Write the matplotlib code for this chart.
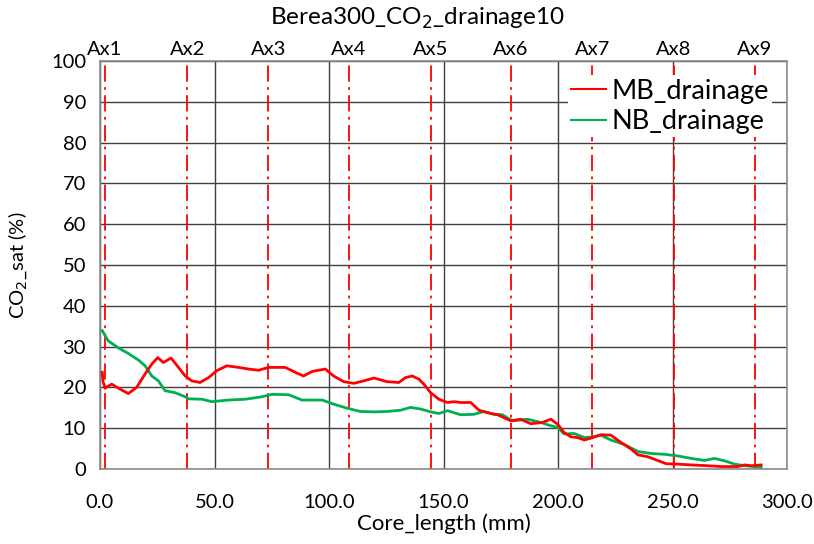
import matplotlib
matplotlib.use("Agg")
import matplotlib.pyplot as plt

plt.rcParams['font.family'] = ['Lato', 'DejaVu Sans']

# ---- data ----
mb_x = [1.0, 1.3, 2.2, 5.1, 8.7, 12.4, 16.0, 19.7, 22.6, 25.2, 27.7, 31.0, 34.3, 37.2, 40.1, 43.7,
        47.4, 51.0, 55.4, 60.5, 64.9, 69.3, 73.6, 80.9, 85.3, 88.9, 92.6, 98.4, 102.0, 106.5,
        110.8, 115.2, 119.6, 125.4, 130.5, 133.4, 136.4, 139.3, 141.4, 144.4, 148.0, 151.7,
        154.6, 157.5, 161.9, 165.5, 169.2, 173.6, 179.4, 183.7, 188.1, 193.2, 196.9, 199.8,
        202.7, 205.6, 208.5, 211.5, 215.1, 218.7, 223.1, 227.5, 231.9, 234.8, 239.2, 243.5,
        247.2, 252.3, 258.1, 265.4, 271.2, 278.5, 281.4, 284.4, 288.7]
mb_y = [23.7, 21.5, 19.8, 20.8, 19.6, 18.5, 20.0, 23.3, 25.7, 27.3, 26.1, 27.2, 24.9, 22.8, 21.6,
        21.2, 22.4, 24.1, 25.3, 24.9, 24.5, 24.2, 24.9, 24.9, 23.7, 22.8, 23.9, 24.5, 22.8, 21.4,
        21.0, 21.6, 22.3, 21.4, 21.2, 22.4, 22.8, 22.0, 20.8, 18.7, 17.1, 16.3, 16.5, 16.3, 16.3,
        14.4, 13.8, 13.3, 11.8, 12.2, 11.1, 11.4, 12.2, 11.0, 8.9, 7.9, 7.7, 7.1, 7.7, 8.4, 8.3,
        6.5, 4.9, 3.5, 3.0, 2.1, 1.3, 1.2, 1.0, 0.8, 0.6, 0.6, 1.0, 0.8, 1.0]

nb_x = [1.0, 3.6, 8.0, 12.4, 16.8, 19.7, 22.6, 25.5, 28.4, 32.8, 37.2, 38.6, 44.5, 48.9, 56.1,
        63.4, 70.7, 75.1, 82.4, 88.2, 97.0, 102.0, 107.9, 113.7, 119.6, 125.4, 131.2, 135.6,
        140.0, 144.4, 148.0, 151.7, 157.5, 163.3, 167.7, 172.0, 175.7, 180.1, 186.7, 192.5,
        196.9, 199.8, 202.7, 207.1, 211.5, 215.8, 218.7, 223.1, 229.0, 234.8, 240.6, 246.5,
        252.3, 258.1, 264.0, 268.3, 272.7, 277.1, 281.4, 285.8, 288.7]
nb_y = [33.9, 31.4, 29.7, 28.3, 26.7, 25.3, 22.8, 21.6, 19.2, 18.7, 17.7, 17.2, 17.1, 16.5, 16.9,
        17.1, 17.7, 18.3, 18.2, 16.9, 16.9, 15.9, 14.9, 14.1, 14.0, 14.1, 14.4, 15.1, 14.7, 14.0,
        13.6, 14.3, 13.3, 13.4, 14.1, 13.4, 13.3, 11.8, 12.2, 11.4, 10.6, 10.2, 8.6, 8.7, 7.7,
        7.9, 8.3, 7.1, 6.0, 4.3, 3.8, 3.6, 3.2, 2.6, 2.1, 2.6, 2.0, 1.2, 0.8, 0.6, 0.5]

ax_pos = [2.2, 38.1, 73.5, 108.7, 144.4, 179.5, 215.0, 250.7, 286.0]
ax_labels = ['Ax1', 'Ax2', 'Ax3', 'Ax4', 'Ax5', 'Ax6', 'Ax7', 'Ax8', 'Ax9']
x_ticks = [0, 50, 100, 150, 200, 250, 300]
y_ticks = [0, 10, 20, 30, 40, 50, 60, 70, 80, 90, 100]

# ---- figure ----
W, H = 814, 544
fig = plt.figure(figsize=(W / 100, H / 100), dpi=100)
ax = fig.add_axes([100 / W, 1 - 469 / H, 687 / W, (469 - 61) / H])

ax.set_xlim(0, 300)
ax.set_ylim(0, 100)
ax.set_xticks(x_ticks)
ax.set_xticklabels([f"{v:.1f}" for v in x_ticks])
ax.set_yticks(y_ticks)
ax.grid(True, color='#404040', lw=1.0, zorder=0)
ax.set_axisbelow(True)
for s in ax.spines.values():
    s.set_color('#8c8c8c')
    s.set_linewidth(1.2)
ax.tick_params(length=0, labelsize=14.5, colors='black')
ax.tick_params(axis='x', pad=18)
ax.tick_params(axis='y', pad=10)

for p in ax_pos:
    ax.axvline(p, color='#ff0000', lw=1.3, ls=(0, (9, 3, 1.5, 3)), zorder=2)

ax.plot(mb_x, mb_y, color='#ff0000', lw=2.0, label='MB_drainage', zorder=4)
ax.plot(nb_x, nb_y, color='#00b050', lw=2.0, label='NB_drainage', zorder=3)

sec = ax.secondary_xaxis('top')
sec.set_xticks(ax_pos)
sec.set_xticklabels(ax_labels)
sec.tick_params(length=0, labelsize=14.5, pad=2)
sec.spines['top'].set_visible(False)

ax.set_xlabel('Core_length (mm)', fontsize=16, labelpad=2)
ax.set_ylabel('CO$_2$_sat (%)', fontsize=14.5, labelpad=16)

fig.text(417 / W, 1 - 18 / H, 'Berea300_CO$_2$_drainage10', ha='center', va='center', fontsize=17.5)

leg = ax.legend(loc='upper right', bbox_to_anchor=(0.998, 0.998), fontsize=19.5, frameon=True,
                facecolor='white', edgecolor='none', framealpha=1, fancybox=False,
                handlelength=1.3, handletextpad=0.2, borderpad=0.12, labelspacing=0.2)
leg.set_zorder(2.4)
for l in leg.get_lines():
    l.set_linewidth(1.5)

fig.savefig('out.png', dpi=100)
